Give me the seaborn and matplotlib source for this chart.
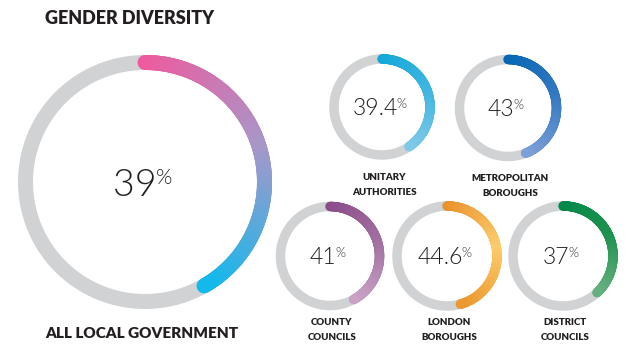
import numpy as np
import matplotlib
matplotlib.use("Agg")
import matplotlib.pyplot as plt
import seaborn as sns
from matplotlib.collections import LineCollection
from matplotlib.colors import LinearSegmentedColormap

sns.set_theme(style="white")
plt.rcParams['font.family'] = ['Lato', 'DejaVu Sans']

# data
groups = ["ALL LOCAL GOVERNMENT", "UNITARY\nAUTHORITIES", "METROPOLITAN\nBOROUGHS",
          "COUNTY\nCOUNCILS", "LONDON\nBOROUGHS", "DISTRICT\nCOUNCILS"]
share_women = [39, 39.4, 43, 41, 44.6, 37]
share_text = ["39", "39.4", "43", "41", "44.6", "37"]
arc_colors = [
    ["#EF5A9D", "#A897C9", "#13B9EC"],
    ["#12A8D9", "#3FB5E1", "#7DC9E8"],
    ["#0667B4", "#3479C1", "#7D9FD7"],
    ["#8A4C89", "#A26FA0", "#C8A1C5"],
    ["#E8912A", "#FECC6C", "#EB992F"],
    ["#038948", "#1E924F", "#65B07F"],
]
gray = "#D1D2D4"
ink = "#231F20"

# layout (pixels)
centers = [(145, 182), (382, 107), (508, 108), (330, 256), (447, 256), (563, 256)]
radii = [119.5, 48, 48.5, 49.5, 50, 50]
widths = [15, 9.5, 9.5, 9.5, 9.5, 9.5]
overshoot = [10, 4, 4, 4, 4, 4]  # degrees the design's arcs run past the value
num_size = [27, 16.5, 16.5, 16.5, 16.5, 16.5]

fig = plt.figure(figsize=(6.4, 3.54), dpi=100)
ax = fig.add_axes([0, 0, 1, 1])
ax.set_xlim(0, 640)
ax.set_ylim(354, 0)
ax.set_axis_off()

px2pt = 72 / 100
for i, val in enumerate(share_women):
    cx, cy = centers[i]
    r = radii[i]
    lw = widths[i] * px2pt
    t = np.linspace(0, 2 * np.pi, 361)
    sns.lineplot(x=cx + r * np.sin(t), y=cy - r * np.cos(t), sort=False,
                 estimator=None, color=gray, lw=lw, ax=ax)
    end = np.deg2rad(360 * val / 100 + overshoot[i])
    th = np.linspace(0, end, 200)
    pts = np.column_stack([cx + r * np.sin(th), cy - r * np.cos(th)])
    segs = np.stack([pts[:-1], pts[1:]], axis=1)
    cmap = LinearSegmentedColormap.from_list("c%d" % i, arc_colors[i])
    cols = cmap(np.linspace(0, 1, len(segs)))
    ax.add_collection(LineCollection(segs, colors=cols, linewidths=lw, capstyle="round"))

# centre numbers with superscript %
fig.canvas.draw()
renderer = fig.canvas.get_renderer()
for i, txt in enumerate(share_text):
    cx, cy = centers[i]
    fs = num_size[i]
    fs2 = fs * 0.56
    fs_px = fs / px2pt
    fs2_px = fs2 / px2pt
    base = cy + 0.36 * fs_px
    t1 = ax.text(0, base, txt, fontsize=fs, fontweight=300, color=ink,
                 ha="left", va="baseline")
    t2 = ax.text(0, base - 0.72 * (fs_px - fs2_px), "%", fontsize=fs2, fontweight=300,
                 color=ink, ha="left", va="baseline")
    w1 = t1.get_window_extent(renderer).width
    w2 = t2.get_window_extent(renderer).width
    x0 = cx - 2 - (w1 + w2) / 2
    t1.set_x(x0)
    t2.set_x(x0 + w1 - 1)

# titles and labels
ax.text(45, 19, "GENDER DIVERSITY", fontsize=13, fontweight="heavy",
        color=ink, ha="left", va="center")
ax.text(45, 333, groups[0], fontsize=11, fontweight="heavy",
        color=ink, ha="left", va="center")
label_y = [None, 185, 186, 330, 330, 330]
for i in range(1, len(groups)):
    ax.text(centers[i][0] + 2, label_y[i], groups[i], fontsize=7, fontweight="heavy",
            color=ink, ha="center", va="center", linespacing=1.75)

fig.savefig("out.png", dpi=100)
